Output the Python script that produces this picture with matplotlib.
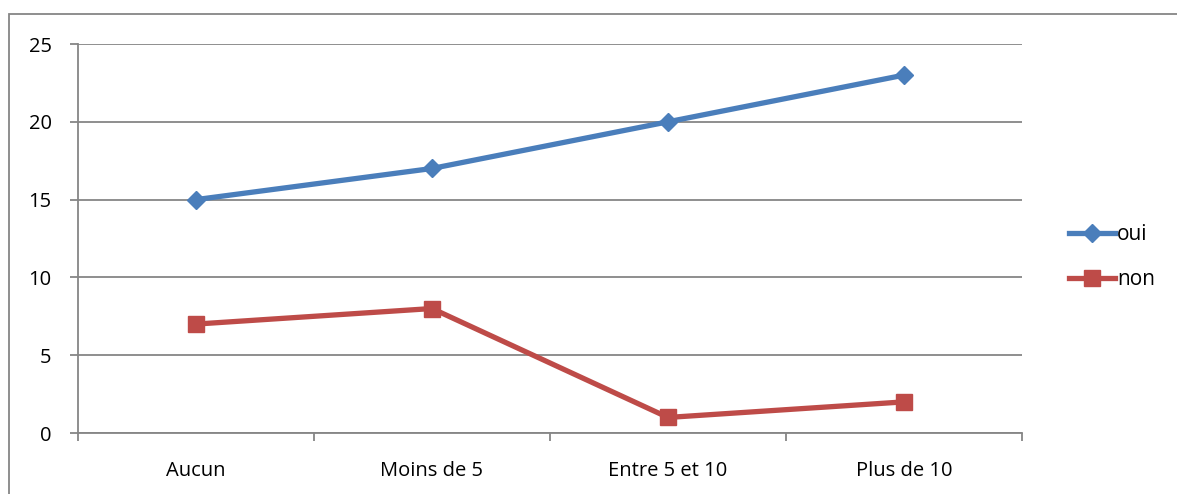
import matplotlib.pyplot as plt
from matplotlib.patches import Rectangle

categories = ["Aucun", "Moins de 5", "Entre 5 et 10", "Plus de 10"]
oui = [15, 17, 20, 23]
non = [7, 8, 1, 2]

plt.rcParams['font.family'] = ['Open Sans', 'DejaVu Sans']

W, H = 1177, 494
fig = plt.figure(figsize=(W / 100, H / 100), dpi=100)

# cadre exterieur (coupe a droite et en bas)
fig.patches.append(Rectangle((8.5 / W, -0.1), 1.2, 1 - 14.5 / H + 0.1,
                             transform=fig.transFigure, fill=False,
                             edgecolor="#868686", linewidth=1.3))

ax = fig.add_axes([78 / W, 1 - 433 / H, (1022 - 78) / W, (433 - 44) / H])

x = list(range(len(categories)))
ax.plot(x, oui, color="#4a7ebb", linewidth=3.8, marker="D", markersize=9,
        label="oui")
ax.plot(x, non, color="#be4b48", linewidth=3.8, marker="s", markersize=12,
        label="non")

ax.set_xlim(-0.5, 3.5)
ax.set_ylim(0, 25)
ax.set_yticks([0, 5, 10, 15, 20, 25])
ax.set_xticks([-0.5, 0.5, 1.5, 2.5, 3.5])
ax.set_xticklabels([])
ax.set_xticks(x, minor=True)
ax.set_xticklabels(categories, minor=True)
ax.tick_params(axis="x", which="minor", length=0, pad=20, labelsize=14.5)
ax.tick_params(axis="x", which="major", length=6, width=1.3, color="#868686")
ax.tick_params(axis="y", length=6, width=1.3, color="#868686", pad=13,
               labelsize=14.5)

ax.grid(True, axis="y", color="#868686", linewidth=1.3)
ax.set_axisbelow(True)
for s in ["top", "right"]:
    ax.spines[s].set_visible(False)
ax.spines["left"].set_color("#868686")
ax.spines["bottom"].set_color("#868686")
ax.spines["left"].set_linewidth(1.3)
ax.spines["bottom"].set_linewidth(1.3)

ax.legend(loc="center left", bbox_to_anchor=(1.03, 0.452), frameon=False,
          fontsize=15, handlelength=2.2, handletextpad=0.1, labelspacing=1.15)

fig.savefig("out.png", dpi=100)
